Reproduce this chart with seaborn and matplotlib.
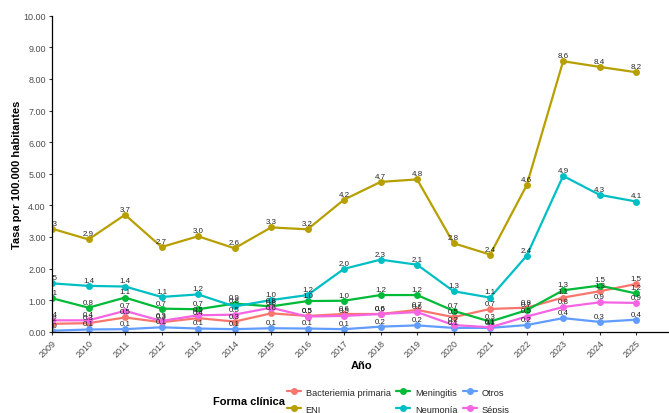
import matplotlib
matplotlib.use("Agg")
import matplotlib.pyplot as plt
import matplotlib.transforms as mtransforms
import seaborn as sns
import pandas as pd
import numpy as np

years = list(range(2009, 2026))
formas = ["Bacteriemia primaria", "ENI", "Meningitis", "Neumonía", "Otros", "Sépsis"]
colors = ["#F8766D", "#B79F00", "#00BA38", "#00BFC4", "#619CFF", "#F564E3"]

bacteriemia = [0.25, 0.27, 0.45, 0.30, 0.43, 0.32, 0.58, 0.50, 0.56, 0.56, 0.69, 0.46, 0.72, 0.76, 1.08, 1.28, 1.51]
eni = [3.26, 2.92, 3.70, 2.68, 3.02, 2.64, 3.30, 3.24, 4.18, 4.74, 4.82, 2.80, 2.44, 4.63, 8.56, 8.38, 8.21]
meningitis = [1.06, 0.76, 1.08, 0.73, 0.71, 0.89, 0.80, 0.97, 0.98, 1.16, 1.16, 0.66, 0.32, 0.68, 1.31, 1.46, 1.21]
neumonia = [1.53, 1.45, 1.43, 1.10, 1.18, 0.80, 1.00, 1.16, 1.99, 2.28, 2.12, 1.28, 1.08, 2.40, 4.93, 4.33, 4.12]
otros = [0.03, 0.07, 0.08, 0.14, 0.10, 0.08, 0.11, 0.10, 0.08, 0.16, 0.20, 0.12, 0.12, 0.21, 0.43, 0.31, 0.38]
sepsis = [0.36, 0.36, 0.66, 0.34, 0.52, 0.54, 0.76, 0.48, 0.50, 0.56, 0.62, 0.21, 0.14, 0.48, 0.78, 0.93, 0.91]

series = [bacteriemia, eni, meningitis, neumonia, otros, sepsis]

rows = []
for f, vals in zip(formas, series):
    for y, v in zip(years, vals):
        rows.append({"Año": y, "Tasa": v, "Forma clínica": f})
df = pd.DataFrame(rows)

sns.set_theme(style="white")
plt.rcParams["font.family"] = ["Liberation Sans", "DejaVu Sans"]

fig = plt.figure(figsize=(6.69, 4.14), dpi=100)
ax = fig.add_axes([52 / 669, 81.3 / 414, 1 - 52 / 669, (332.7 - 16.7) / 414])

sns.lineplot(data=df, x="Año", y="Tasa", hue="Forma clínica", hue_order=formas,
             palette=colors, marker="o", markersize=5, markeredgewidth=0,
             linewidth=1.6, ax=ax, legend=True)

handles, labels = ax.get_legend_handles_labels()
ax.get_legend().remove()

offset = mtransforms.ScaledTranslation(0, 1.5 / 72, fig.dpi_scale_trans)
for f, vals in zip(formas, series):
    for y, v in zip(years, vals):
        ax.text(y, v, f"{v:.1f}", transform=ax.transData + offset,
                ha="center", va="bottom", fontsize=5.7, color="#262626", clip_on=True)

ax.set_xlim(2009, 2025.9)
ax.set_ylim(0, 10)
ax.set_xticks(years)
ax.set_xticklabels([str(y) for y in years], rotation=45, ha="right", rotation_mode="anchor")
ax.set_yticks(range(0, 11))
ax.set_yticklabels([f"{v:.2f}" for v in range(0, 11)])
ax.tick_params(axis="both", which="major", length=2.5, width=0.8, color="#333333",
               labelsize=6.5, labelcolor="#4D4D4D", direction="out", pad=2,
               bottom=True, left=True)
for s in ["top", "right"]:
    ax.spines[s].set_visible(False)
for s in ["left", "bottom"]:
    ax.spines[s].set_color("black")
    ax.spines[s].set_linewidth(0.9)
ax.grid(False)

ax.set_xlabel("Año", fontsize=8, fontweight="bold", color="black")
ax.set_ylabel("Tasa por 100.000 habitantes", fontsize=8, fontweight="bold", color="black")
ax.xaxis.label.set_va("center")
ax.yaxis.label.set_va("center")
ax.xaxis.set_label_coords((362 - 52) / 617, (332.7 - 366) / 316)
ax.yaxis.set_label_coords((17 - 52) / 617, 0.5)

leg = fig.legend(handles, labels, ncol=3, loc="center left",
                 bbox_to_anchor=(287 / 669, 1 - 401.7 / 414),
                 frameon=False, fontsize=6.7, handlelength=1.5, handletextpad=0.5,
                 columnspacing=0.6, labelspacing=0.85, borderpad=0, borderaxespad=0)
fig.text(213 / 669, 1 - 402 / 414, "Forma clínica", fontsize=8, fontweight="bold",
         va="center", ha="left", color="black")

fig.savefig("out.png", dpi=100)
